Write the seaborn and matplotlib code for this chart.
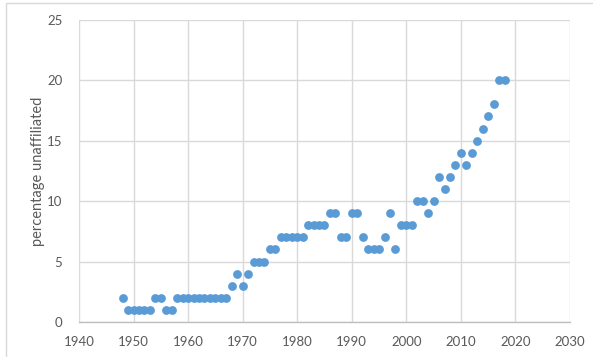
import matplotlib
matplotlib.use('Agg')
import matplotlib.pyplot as plt
import seaborn as sns
import pandas as pd
from matplotlib.patches import Rectangle

# Data
years = [1948, 1949, 1950, 1951, 1952, 1953, 1954, 1955, 1956, 1957,
         1958, 1959, 1960, 1961, 1962, 1963, 1964, 1965, 1966, 1967,
         1968, 1969, 1970, 1971, 1972, 1973, 1974, 1975, 1976, 1977,
         1978, 1979, 1980, 1981, 1982, 1983, 1984, 1985, 1986, 1987,
         1988, 1989, 1990, 1991, 1992, 1993, 1994, 1995, 1996, 1997,
         1998, 1999, 2000, 2001, 2002, 2003, 2004, 2005, 2006, 2007,
         2008, 2009, 2010, 2011, 2012, 2013, 2014, 2015, 2016, 2017,
         2018]
unaffiliated = [2, 1, 1, 1, 1, 1, 2, 2, 1, 1,
                2, 2, 2, 2, 2, 2, 2, 2, 2, 2,
                3, 4, 3, 4, 5, 5, 5, 6, 6, 7,
                7, 7, 7, 7, 8, 8, 8, 8, 9, 9,
                7, 7, 9, 9, 7, 6, 6, 6, 7, 9,
                6, 8, 8, 8, 10, 10, 9, 10, 12, 11,
                12, 13, 14, 13, 14, 15, 16, 17, 18, 20,
                20]
x_ticks = [1940, 1950, 1960, 1970, 1980, 1990, 2000, 2010, 2020, 2030]
y_ticks = [0, 5, 10, 15, 20, 25]

df = pd.DataFrame({'year': years, 'pct': unaffiliated})

sns.set_style('whitegrid')
plt.rcParams['font.family'] = ['Lato', 'DejaVu Sans']

fig = plt.figure(figsize=(5.93, 3.57), dpi=100)
ax = fig.add_axes([0.1332, 0.098, 0.828, 0.8468])

sns.scatterplot(data=df, x='year', y='pct', ax=ax, color='#5B9BD5',
                s=40, linewidth=0, zorder=3)

ax.set_xlim(1940, 2030)
ax.set_ylim(0, 25)
ax.set_xticks(x_ticks)
ax.set_yticks(y_ticks)
ax.grid(True, color='#D9D9D9', linewidth=1)
for side in ['top', 'right', 'left']:
    ax.spines[side].set_visible(False)
ax.spines['bottom'].set_color('#BFBFBF')
ax.spines['bottom'].set_linewidth(1)
ax.tick_params(axis='both', labelsize=9.5, colors='#595959', length=0)
ax.tick_params(axis='x', pad=10)
ax.tick_params(axis='y', pad=12)
ax.set_xlabel('')
ax.set_ylabel('percentage unaffiliated', fontsize=10.5, color='#595959', labelpad=1)

# chart frame (only top and left edges are in view)
fig.patches.append(Rectangle((6 / 593, -0.1), 1, 1.1 - 3 / 357, transform=fig.transFigure,
                             fill=False, edgecolor='#D9D9D9', linewidth=1))

fig.savefig('out.png', dpi=100)
